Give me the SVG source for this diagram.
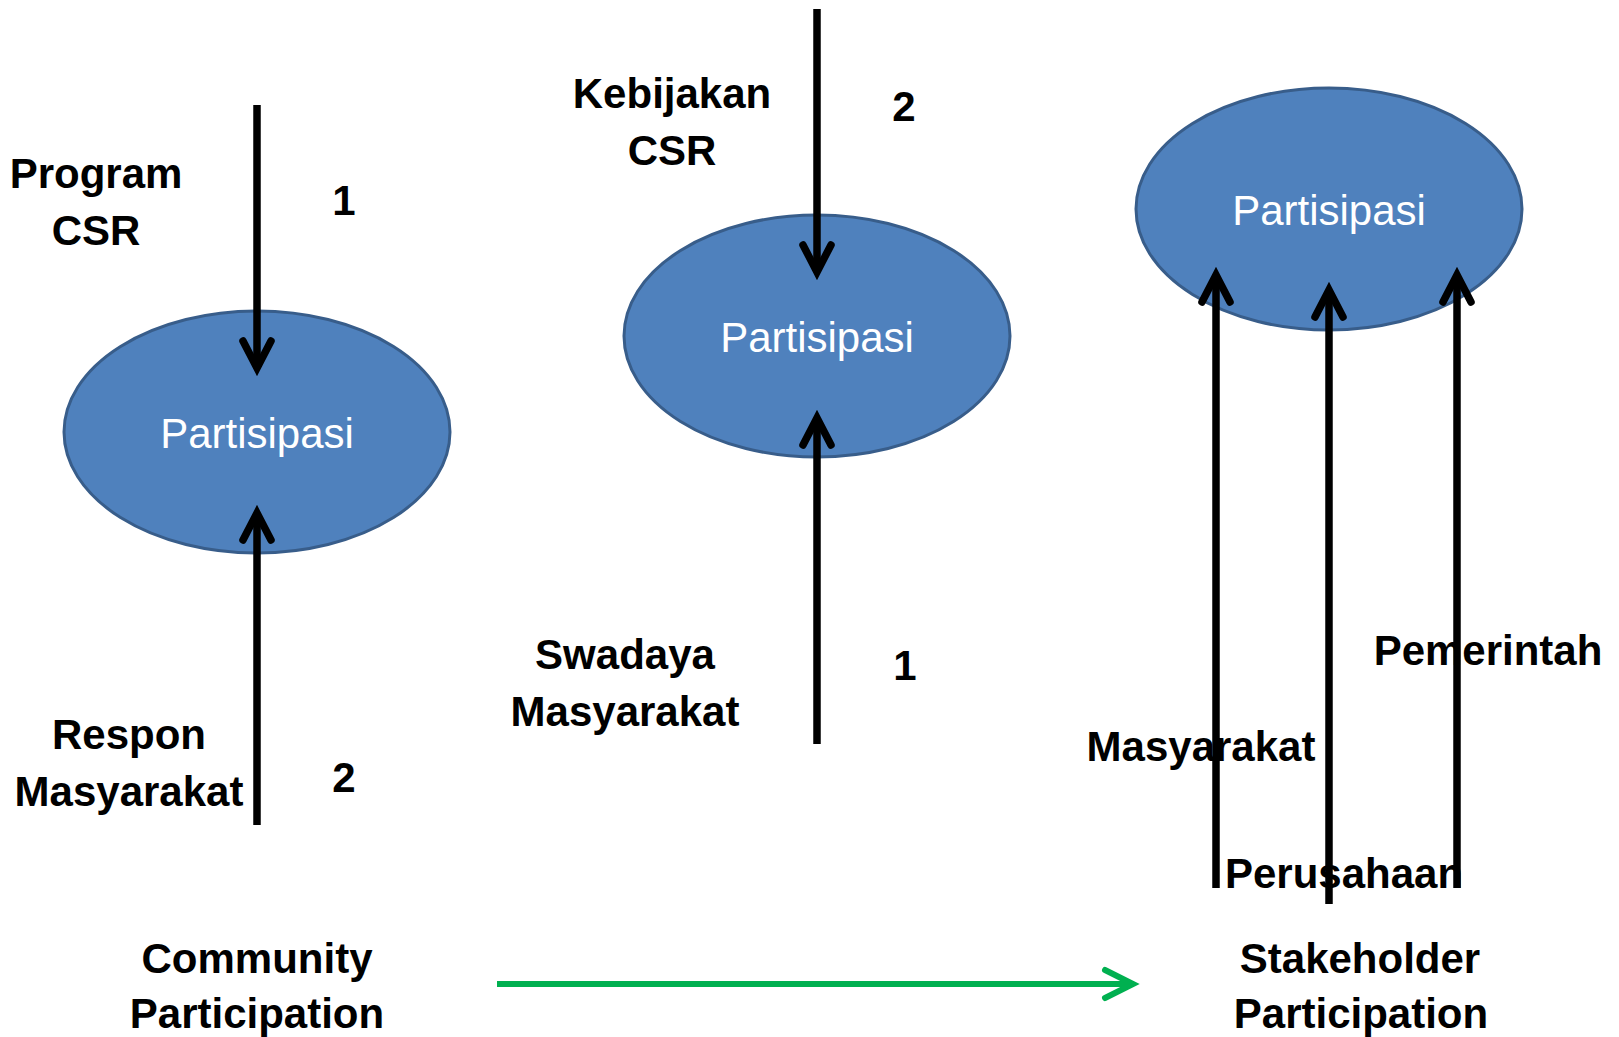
<svg xmlns="http://www.w3.org/2000/svg" width="1619" height="1037" viewBox="0 0 1619 1037">
  <style>
    .bubble { fill: #4f81bd; stroke: #385d8a; stroke-width: 3; }
    .bubble-text { font-family: "Liberation Sans", Arial, sans-serif; font-size: 42px; fill: #ffffff; text-anchor: middle; }
    .label { font-family: "Liberation Sans", Arial, sans-serif; font-weight: bold; font-size: 42px; fill: #000000; text-anchor: middle; }
    .flow { stroke: #000000; stroke-width: 7.5; fill: none; marker-end: url(#head); }
    .shift { stroke: #00b050; stroke-width: 6; fill: none; marker-end: url(#head-green); }
  </style>
  <defs>
    <marker id="head" markerUnits="userSpaceOnUse" viewBox="-40 -25 50 50" markerWidth="50" markerHeight="50" refX="0" refY="0" orient="auto" overflow="visible">
      <path d="M -27 -14 L 0 0 L -27 14" fill="none" stroke="#000000" stroke-width="7.5" stroke-linecap="round" stroke-linejoin="miter"/>
    </marker>
    <marker id="head-green" markerUnits="userSpaceOnUse" viewBox="-40 -25 50 50" markerWidth="50" markerHeight="50" refX="0" refY="0" orient="auto" overflow="visible">
      <path d="M -28 -14 L 0 0 L -28 14" fill="none" stroke="#00b050" stroke-width="6" stroke-linecap="round" stroke-linejoin="miter"/>
    </marker>
  </defs>

  <rect width="1619" height="1037" fill="#ffffff"/>

  <!-- participation bubbles -->
  <g id="partisipasi-community">
    <ellipse class="bubble" cx="257" cy="432" rx="193" ry="121"/>
    <text class="bubble-text" x="257" y="448">Partisipasi</text>
  </g>
  <g id="partisipasi-mid">
    <ellipse class="bubble" cx="817" cy="336" rx="193" ry="121"/>
    <text class="bubble-text" x="817" y="352">Partisipasi</text>
  </g>
  <g id="partisipasi-stakeholder">
    <ellipse class="bubble" cx="1329" cy="209" rx="193" ry="121"/>
    <text class="bubble-text" x="1329" y="225">Partisipasi</text>
  </g>

  <!-- connectors -->
  <g id="connectors">
    <line class="flow" x1="257" y1="105" x2="257" y2="368"/>
    <line class="flow" x1="257" y1="825" x2="257" y2="513"/>
    <line class="flow" x1="817" y1="9" x2="817" y2="272"/>
    <line class="flow" x1="817" y1="744" x2="817" y2="418"/>
    <line class="flow" x1="1216" y1="888" x2="1216" y2="275"/>
    <line class="flow" x1="1329" y1="904" x2="1329" y2="290"/>
    <line class="flow" x1="1457" y1="888" x2="1457" y2="275"/>
    <line class="shift" x1="497" y1="984" x2="1133" y2="984"/>
  </g>

  <!-- left column labels -->
  <g id="program-csr">
    <text class="label" x="96" y="188">Program</text>
    <text class="label" x="96" y="245">CSR</text>
  </g>
  <g id="step-1-left"><text class="label" x="344" y="215">1</text></g>
  <g id="respon-masyarakat">
    <text class="label" x="129" y="749">Respon</text>
    <text class="label" x="129" y="806">Masyarakat</text>
  </g>
  <g id="step-2-left"><text class="label" x="344" y="792">2</text></g>
  <g id="community-participation">
    <text class="label" x="257" y="973">Community</text>
    <text class="label" x="257" y="1028">Participation</text>
  </g>

  <!-- middle column labels -->
  <g id="kebijakan-csr">
    <text class="label" x="672" y="108">Kebijakan</text>
    <text class="label" x="672" y="165">CSR</text>
  </g>
  <g id="step-2-mid"><text class="label" x="904" y="121">2</text></g>
  <g id="swadaya-masyarakat">
    <text class="label" x="625" y="669">Swadaya</text>
    <text class="label" x="625" y="726">Masyarakat</text>
  </g>
  <g id="step-1-mid"><text class="label" x="905" y="680">1</text></g>

  <!-- right column labels -->
  <g id="masyarakat"><text class="label" x="1201" y="761">Masyarakat</text></g>
  <g id="pemerintah"><text class="label" x="1488" y="665">Pemerintah</text></g>
  <g id="perusahaan"><text class="label" x="1344" y="888">Perusahaan</text></g>
  <g id="stakeholder-participation">
    <text class="label" x="1360" y="973">Stakeholder</text>
    <text class="label" x="1361" y="1028">Participation</text>
  </g>
</svg>
